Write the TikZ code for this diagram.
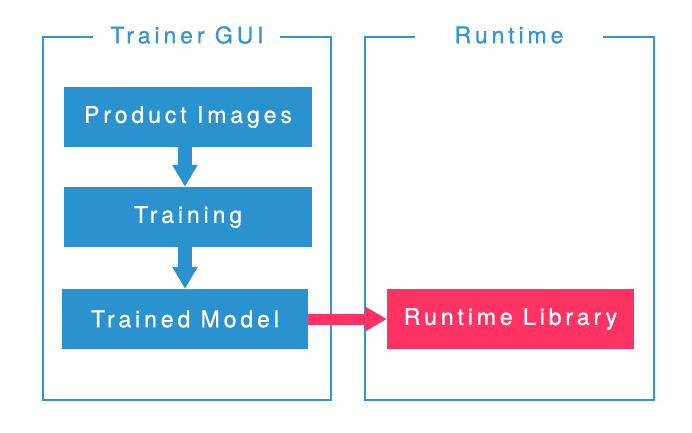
\documentclass[tikz,border=0pt]{standalone}
\usepackage{fontspec}
\setmainfont{TeX Gyre Heros}[LetterSpace=17,FakeBold=0.8]
\usetikzlibrary{arrows.meta,calc}
\definecolor{boxblue}{HTML}{2A92CF}
\definecolor{frameblue}{HTML}{3596CB}
\definecolor{pink}{HTML}{FF3363}
\begin{document}
\begin{tikzpicture}[x=1bp,y=-1bp,
  stagebox/.style={fill=boxblue,minimum width=248bp,minimum height=60bp,inner sep=0pt,text=white,font=\fontsize{23bp}{26bp}\selectfont},
  libbox/.style={fill=pink,minimum width=247bp,minimum height=60bp,inner sep=0pt,text=white,font=\fontsize{23bp}{26bp}\selectfont},
  frame/.style={draw=frameblue,line width=2.2bp},
  title/.style={text=frameblue,font=\fontsize{23bp}{26bp}\selectfont,inner sep=0pt},
  blueflow/.style={draw=boxblue,line width=14bp,-{Triangle[length=22bp,width=24bp]}},
  pinkflow/.style={draw=pink,line width=11bp,-{Triangle[length=22bp,width=24bp]}}
]
\useasboundingbox (0,0) rectangle (692,432);
% frames
\draw[frame] (93,37) -- (43,37) -- (43,400) -- (331,400) -- (331,37) -- (280,37);
\draw[frame] (415,37) -- (365,37) -- (365,400) -- (654,400) -- (654,37) -- (603,37);
\node[title] (tg) at (187,35) {Trainer GUI};
\node[title] (rt) at (509,35) {Runtime};
% boxes
\node[stagebox] (pi) at (188,117) {Product Images};
\node[stagebox] (tr) at (188,217) {Training};
\node[stagebox,minimum width=246bp] (tm) at (185,319) {Trained Model};
\node[libbox] (rl) at (510.5,319) {Runtime Library};
% connectors
\draw[blueflow] (pi.south -| tm.north) -- (tr.north -| tm.north);
\draw[blueflow] (tr.south -| tm.north) -- (tm.north);
\draw[pinkflow] (tm.east) -- (rl.west);
\end{tikzpicture}
\end{document}
